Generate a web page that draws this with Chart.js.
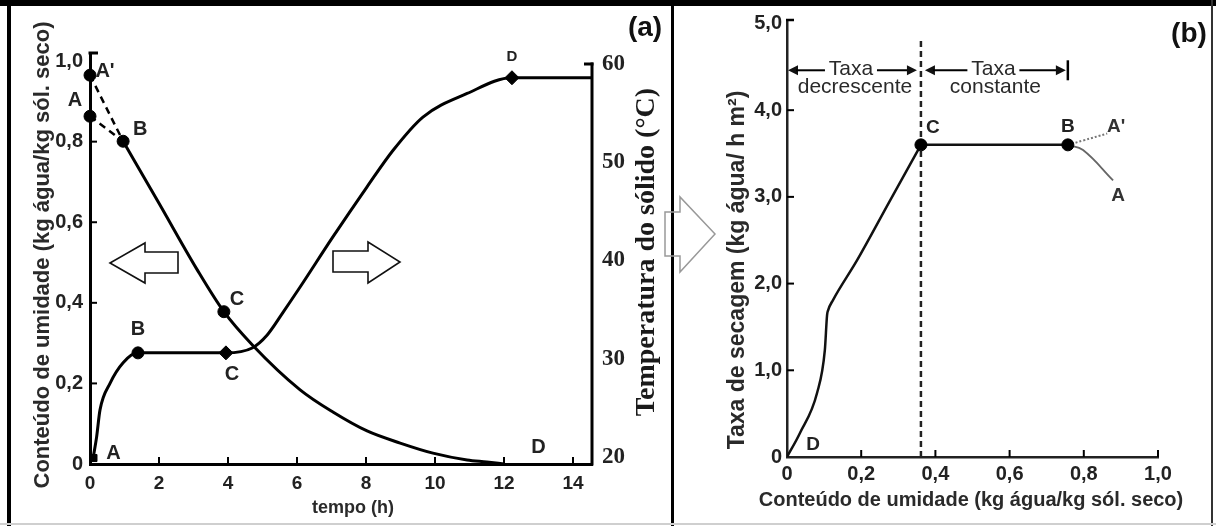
<!DOCTYPE html>
<html><head><meta charset="utf-8">
<script src="https://cdn.jsdelivr.net/npm/chart.js@4.4.1/dist/chart.umd.min.js"></script>
<style>
html,body{margin:0;padding:0;background:#fff;}
#wrap{position:relative;width:1216px;height:526px;overflow:hidden;background:#fff;}
#ca{position:absolute;left:0;top:0;}
#cb{position:absolute;left:700px;top:0;}
.bar{position:absolute;background:#000;}
#deco{position:absolute;left:0;top:0;}
</style></head><body>
<div id="wrap">
<canvas id="ca" width="700" height="526"></canvas>
<canvas id="cb" width="516" height="526"></canvas>
<div class="bar" style="left:0;top:0;width:1216px;height:6px"></div>
<div class="bar" style="left:7px;top:0;width:4px;height:526px"></div>
<div class="bar" style="left:671px;top:0;width:3px;height:526px"></div>
<div class="bar" style="left:1211px;top:0;width:2px;height:526px;background:#333"></div>
<div class="bar" style="left:0;top:523px;width:1216px;height:2px;background:#cfcfcf"></div>
<svg id="deco" width="1216" height="526">
  <path d="M110,263 L145,243 L145,252 L178,252 L178,273 L145,273 L145,283 Z" fill="#fff" stroke="#111" stroke-width="1.6"/>
  <path d="M333,251 L368,251 L368,242 L400,262 L368,283 L368,272 L333,272 Z" fill="#fff" stroke="#111" stroke-width="1.6"/>
  <path d="M665,212 L680,212 L680,197 L715,234 L680,272 L680,256 L665,256 Z" fill="none" stroke="#999" stroke-width="1.5"/>
</svg>
</div>
<script>
// ---------- Painel (a) ----------
const tempoUmidade = [0.96, 2.0, 3.1, 3.88, 4.7, 6.09, 7.04, 8.03, 8.99, 9.94, 10.93, 11.5, 12.0];
const umidade      = [0.801, 0.647, 0.483, 0.378, 0.296, 0.184, 0.129, 0.082, 0.052, 0.027, 0.010, 0.005, 0.0];
const tempoInicial = [0, 0.96];
const umidadeA     = [0.863, 0.801];
const umidadeALinha= [0.965, 0.801];
const tempoTemp    = [0.09, 0.19, 0.29, 0.58, 0.96, 1.39, 3.94, 4.70, 5.13, 5.59, 6.09, 7.04, 8.03, 8.78, 9.65, 10.93, 12.23, 14.55];
const temperatura  = [19.9, 22.0, 24.8, 27.5, 29.6, 30.6, 30.6, 31.1, 32.4, 34.7, 37.3, 42.4, 47.5, 51.2, 54.6, 57.0, 58.6, 58.6];
const marcUmidT    = [0, 0, 0.96, 3.88];
const marcUmid     = [0.965, 0.863, 0.801, 0.378];
const rotUmid      = ["A'", "A", "B", "C"];
const marcTempT    = [0.1, 1.39, 3.94, 12.23];
const marcTemp     = [19.9, 30.6, 30.6, 58.6];
const rotTemp      = ["A", "B", "C", "D"];
const rotUmidFinalT = 13.0, rotUmidFinal = 0;   // rótulo D da curva de umidade
const ticksTempo   = [0, 2, 4, 6, 8, 10, 12, 14];
const ticksUmidade = [0, 0.2, 0.4, 0.6, 0.8, 1.0];
const ticksTemperatura = [20, 30, 40, 50, 60];

// ---------- Painel (b) ----------
const umidadeB     = [0, 0.035, 0.081, 0.102, 0.108, 0.111, 0.124, 0.189, 0.278, 0.361];
const taxaB        = [0, 0.277, 0.738, 1.233, 1.637, 1.695, 1.81, 2.27, 2.96, 3.60];
const umidadeConst = [0.361, 0.757];
const taxaConst    = [3.60, 3.60];
const umidadeALinhaB = [0.757, 0.798, 0.863];
const taxaALinha   = [3.60, 3.65, 3.73];
const umidadeAB    = [0.757, 0.798, 0.879];
const taxaA        = [3.60, 3.54, 3.19];
const umidadeCritica = 0.361;
const marcB_X      = [0.361, 0.757];
const marcB_Y      = [3.60, 3.60];
const ticksXB      = [0, 0.2, 0.4, 0.6, 0.8, 1.0];
const ticksYB      = [0, 1, 2, 3, 4, 5];

const SANS = "'Liberation Sans', Arial, Helvetica, sans-serif";
const SERIF = "'Liberation Serif', 'Times New Roman', serif";
const INK = '#222';
const fmt = v => v === 0 ? '0' : v.toFixed(1).replace('.', ',');
const pts = (xs, ys) => xs.map((x, i) => ({x: x, y: ys[i]}));
const setTicks = arr => (s => { s.ticks = arr.map(v => ({value: v})); });

function txt(ctx, s, x, y, font, rot, color) {
  ctx.save();
  ctx.font = font; ctx.fillStyle = color || INK;
  ctx.textAlign = 'center'; ctx.textBaseline = 'middle';
  ctx.translate(x, y);
  if (rot) ctx.rotate(rot);
  ctx.fillText(s, 0, 0);
  ctx.restore();
}
function line(ctx, x1, y1, x2, y2, w, color) {
  ctx.save(); ctx.strokeStyle = color || '#000'; ctx.lineWidth = w;
  ctx.beginPath(); ctx.moveTo(x1, y1); ctx.lineTo(x2, y2); ctx.stroke(); ctx.restore();
}
function head(ctx, x, y, dir) {
  ctx.save(); ctx.fillStyle = '#111';
  ctx.beginPath(); ctx.moveTo(x, y); ctx.lineTo(x - dir * 10, y - 5); ctx.lineTo(x - dir * 10, y + 5);
  ctx.closePath(); ctx.fill(); ctx.restore();
}

// ---------- Gráfico (a) ----------
const decorA = {
  id: 'decorA',
  afterDraw(chart) {
    const ctx = chart.ctx, a = chart.chartArea;
    const sx = chart.scales.x, sy = chart.scales.y, sy2 = chart.scales.y2;
    const yTop2 = sy2.getPixelForValue(60);
    line(ctx, a.right, yTop2 - 1.5, a.right, a.bottom + 1.5, 3);
    line(ctx, a.right - 8, yTop2, a.right + 1.5, yTop2, 3);
    line(ctx, a.left - 1.5, a.top, a.left + 8, a.top, 3);
    ticksTempo.forEach(v => { if (v > 0) { const p = sx.getPixelForValue(v); line(ctx, p, a.bottom, p, a.bottom - 7, 2); } });
    ticksUmidade.forEach(v => { if (v > 0 && v < 1) { const p = sy.getPixelForValue(v); line(ctx, a.left, p, a.left + 7, p, 2); } });
    txt(ctx, 'Conteúdo de umidade (kg água/kg sól. seco)', 43, 255, 'bold 22px ' + SANS, -Math.PI / 2, '#2a2a2a');
    txt(ctx, 'Temperatura do sólido (°C)', 647, 252, 'bold 28px ' + SERIF, -Math.PI / 2, '#1a1a1a');
    txt(ctx, 'tempo (h)', 353, 508, 'bold 18px ' + SANS, 0, '#2a2a2a');
    txt(ctx, '(a)', 645, 28, 'bold 28px ' + SANS, 0, '#111');
    const f = 'bold 20px ' + SANS;
    const offU = [[15, -4], [-15, -16], [17, -12], [13, -12]];
    marcUmidT.forEach((t, i) => {
      txt(ctx, rotUmid[i], sx.getPixelForValue(t) + offU[i][0], sy.getPixelForValue(marcUmid[i]) + offU[i][1], f);
    });
    const offT = [[20, -5], [0, -23], [6, 22], [0, -21]];
    marcTempT.forEach((t, i) => {
      txt(ctx, rotTemp[i], sx.getPixelForValue(t) + offT[i][0], sy2.getPixelForValue(marcTemp[i]) + offT[i][1],
          i === 3 ? 'bold 15px ' + SANS : f);
    });
    txt(ctx, 'D', sx.getPixelForValue(rotUmidFinalT), sy.getPixelForValue(rotUmidFinal) - 17, f);
  }
};

new Chart(document.getElementById('ca'), {
  type: 'scatter',
  data: {
    datasets: [
      { data: pts(marcUmidT, marcUmid), yAxisID: 'y', pointStyle: 'circle', pointRadius: 6, clip: false,
        backgroundColor: '#000', borderColor: '#000', showLine: false },
      { data: pts(marcTempT, marcTemp), yAxisID: 'y2', pointStyle: ['rect', 'circle', 'rectRot', 'rectRot'], clip: false,
        pointRadius: [5, 6, 7, 7], backgroundColor: '#000', borderColor: '#000', showLine: false },
      { data: pts(tempoUmidade, umidade), yAxisID: 'y', showLine: true, borderColor: '#000', borderWidth: 3,
        pointRadius: 0, cubicInterpolationMode: 'monotone' },
      { data: pts(tempoInicial, umidadeA), yAxisID: 'y', showLine: true, borderColor: '#000', borderWidth: 2.5,
        borderDash: [7, 5], pointRadius: 0, clip: false },
      { data: pts(tempoInicial, umidadeALinha), yAxisID: 'y', showLine: true, borderColor: '#000', borderWidth: 2.5,
        borderDash: [7, 5], pointRadius: 0, clip: false },
      { data: pts(tempoTemp, temperatura), yAxisID: 'y2', showLine: true, borderColor: '#000', borderWidth: 3,
        pointRadius: 0, cubicInterpolationMode: 'monotone', clip: false }
    ]
  },
  options: {
    responsive: false, animation: false, devicePixelRatio: 1,
    layout: { padding: { top: 53, left: 0, right: 0, bottom: 0 }, autoPadding: false },
    plugins: { legend: { display: false }, tooltip: { enabled: false } },
    scales: {
      x: { type: 'linear', position: 'bottom', min: 0, max: 14.55,
        afterBuildTicks: setTicks(ticksTempo), afterFit: s => { s.height = 62; },
        grid: { display: false, drawTicks: false }, border: { display: true, color: '#000', width: 3 },
        ticks: { font: { family: SANS, size: 19, weight: 'bold' }, color: INK, padding: 8, maxRotation: 0, autoSkip: false } },
      y: { type: 'linear', position: 'left', min: 0, max: 1.02,
        afterBuildTicks: setTicks(ticksUmidade), afterFit: s => { s.width = 90; },
        grid: { display: false, drawTicks: false }, border: { display: true, color: '#000', width: 3 },
        ticks: { font: { family: SANS, size: 20, weight: 'bold' }, color: INK, padding: 7, autoSkip: false,
          callback: v => fmt(v) } },
      y2: { type: 'linear', position: 'right', min: 19.29, max: 61.12,
        afterBuildTicks: setTicks(ticksTemperatura), afterFit: s => { s.width = 108; },
        grid: { display: false, drawTicks: false }, border: { display: false },
        ticks: { font: { family: SERIF, size: 23, weight: 'bold' }, color: INK, padding: 10, autoSkip: false,
          callback: v => String(v) } }
    }
  },
  plugins: [decorA]
});

// ---------- Gráfico (b) ----------
const OX = 700;
const decorB = {
  id: 'decorB',
  afterDraw(chart) {
    const ctx = chart.ctx, a = chart.chartArea;
    const sx = chart.scales.x, sy = chart.scales.y;
    line(ctx, a.left - 1, a.top, a.left + 7, a.top, 2.5);
    ticksXB.forEach(v => { if (v > 0) { const p = sx.getPixelForValue(v); line(ctx, p, a.bottom, p, a.bottom - 7, 2); } });
    ticksYB.forEach(v => { if (v > 0 && v < 5) { const p = sy.getPixelForValue(v); line(ctx, a.left, p, a.left + 7, p, 2); } });
    txt(ctx, 'Taxa de secagem (kg água/ h m²)', 738 - OX, 270, 'bold 23px ' + SANS, -Math.PI / 2, '#2a2a2a');
    txt(ctx, 'Conteúdo de umidade (kg água/kg sól. seco)', 971 - OX, 500, 'bold 20px ' + SANS, 0, '#2a2a2a');
    txt(ctx, '(b)', 1189 - OX, 34, 'bold 28px ' + SANS, 0, '#111');
    const ya = sy.getPixelForValue(4.46);
    const x0 = sx.getPixelForValue(0), xc = sx.getPixelForValue(umidadeCritica), xb = sx.getPixelForValue(marcB_X[1]);
    const fa = '21px ' + SANS;
    const m1 = (x0 + xc) / 2 - 3, m2 = (xc + xb) / 2 - 1;
    head(ctx, x0 + 1, ya, -1); line(ctx, x0 + 9, ya, m1 - 26, ya, 2);
    txt(ctx, 'Taxa', m1, ya - 1, fa, 0, '#2a2a2a');
    line(ctx, m1 + 26, ya, xc - 12, ya, 2); head(ctx, xc - 4, ya, 1);
    head(ctx, xc + 4, ya, -1); line(ctx, xc + 12, ya, m2 - 26, ya, 2);
    txt(ctx, 'Taxa', m2, ya - 1, fa, 0, '#2a2a2a');
    line(ctx, m2 + 26, ya, xb - 10, ya, 2); head(ctx, xb - 2, ya, 1);
    line(ctx, xb, ya - 10, xb, ya + 10, 2.5);
    txt(ctx, 'decrescente', m1 + 4, ya + 17, fa, 0, '#2a2a2a');
    txt(ctx, 'constante', m2 + 2, ya + 17, fa, 0, '#2a2a2a');
    const f = 'bold 19px ' + SANS;
    txt(ctx, 'D', sx.getPixelForValue(0) + 26, sy.getPixelForValue(0) - 12, f);
    txt(ctx, 'C', sx.getPixelForValue(marcB_X[0]) + 12, sy.getPixelForValue(marcB_Y[0]) - 17, f);
    txt(ctx, 'B', sx.getPixelForValue(marcB_X[1]), sy.getPixelForValue(marcB_Y[1]) - 18, f);
    const nA1 = umidadeALinhaB.length - 1, nA = umidadeAB.length - 1;
    txt(ctx, "A'", sx.getPixelForValue(umidadeALinhaB[nA1]) + 9, sy.getPixelForValue(taxaALinha[nA1]) - 7, f, 0, '#333');
    txt(ctx, 'A', sx.getPixelForValue(umidadeAB[nA]) + 5, sy.getPixelForValue(taxaA[nA]) + 15, f, 0, '#333');
  }
};

new Chart(document.getElementById('cb'), {
  type: 'scatter',
  data: {
    datasets: [
      { data: pts(marcB_X, marcB_Y), pointStyle: 'circle', pointRadius: 6, backgroundColor: '#000', borderColor: '#000', showLine: false, clip: false },
      { data: pts(umidadeB, taxaB), showLine: true, borderColor: '#111', borderWidth: 2.5, pointRadius: 0, cubicInterpolationMode: 'monotone' },
      { data: pts(umidadeConst, taxaConst), showLine: true, borderColor: '#111', borderWidth: 2.5, pointRadius: 0 },
      { data: pts(umidadeALinhaB, taxaALinha), showLine: true, borderColor: '#777', borderWidth: 2, borderDash: [2, 2], pointRadius: 0, tension: 0.4 },
      { data: pts(umidadeAB, taxaA), showLine: true, borderColor: '#666', borderWidth: 1.8, pointRadius: 0, tension: 0.4 },
      { data: pts([umidadeCritica, umidadeCritica], [0, 4.84]), showLine: true, borderColor: '#222', borderWidth: 2.5, borderDash: [6, 4], pointRadius: 0 }
    ]
  },
  options: {
    responsive: false, animation: false, devicePixelRatio: 1,
    layout: { padding: { top: 20, left: 0, right: 58, bottom: 0 }, autoPadding: false },
    plugins: { legend: { display: false }, tooltip: { enabled: false } },
    scales: {
      x: { type: 'linear', position: 'bottom', min: 0, max: 1.0,
        afterBuildTicks: setTicks(ticksXB), afterFit: s => { s.height = 69; },
        grid: { display: false, drawTicks: false }, border: { display: true, color: '#222', width: 2.5 },
        ticks: { font: { family: SANS, size: 20, weight: 'bold' }, color: INK, padding: 5, maxRotation: 0, autoSkip: false,
          callback: v => fmt(v) } },
      y: { type: 'linear', position: 'left', min: 0, max: 5.04,
        afterBuildTicks: setTicks(ticksYB), afterFit: s => { s.width = 87; },
        grid: { display: false, drawTicks: false }, border: { display: true, color: '#222', width: 2.5 },
        ticks: { font: { family: SANS, size: 20, weight: 'bold' }, color: INK, padding: 5, autoSkip: false,
          callback: v => fmt(v) } }
    }
  },
  plugins: [decorB]
});
</script>
</body></html>
